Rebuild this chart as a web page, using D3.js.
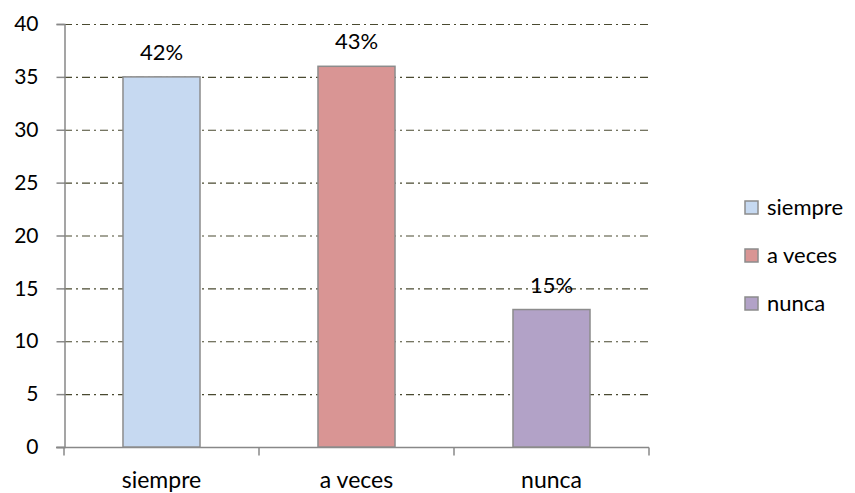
<!DOCTYPE html>
<html lang="es">
<head>
  <meta charset="UTF-8" />
  <script src="https://d3js.org/d3.v7.min.js"></script>
  <style>
    body { margin: 0; background: #fff; }
    text { font-family: Lato, "Open Sans", sans-serif; fill: #000; }
  </style>
</head>
<body>
  <svg width="855" height="493"></svg>

  <script>
    const categories = ["siempre", "a veces", "nunca"];
    const values = [35, 36, 13];
    const percentLabels = ["42%", "43%", "15%"];
    const colors = ["#c6d9f1", "#d99594", "#b2a2c7"];
    const yTicks = [0, 5, 10, 15, 20, 25, 30, 35, 40];

    const svg = d3.select("svg");
    const plotLeft = 64, plotRight = 649, plotTop = 24, plotBottom = 447;

    const x = d3.scaleBand()
      .domain(categories)
      .range([plotLeft, plotRight])
      .paddingInner(0.605)
      .paddingOuter(0.3025);

    const xCat = d3.scaleBand().domain(categories).range([plotLeft, plotRight]);

    const y = d3.scaleLinear().domain([0, 40]).range([plotBottom, plotTop]);

    // grid lines
    svg.append("g")
      .selectAll("line")
      .data(yTicks.filter(d => d > 0))
      .enter()
      .append("line")
      .attr("x1", plotLeft)
      .attr("x2", plotRight)
      .attr("y1", d => y(d) + 0.5)
      .attr("y2", d => y(d) + 0.5)
      .attr("stroke", "#4a4a30")
      .attr("stroke-width", 1.2)
      .attr("stroke-dasharray", "8,4,2,4");

    // y axis
    const yAxis = svg.append("g")
      .attr("transform", `translate(${plotLeft + 0.5},0)`)
      .call(d3.axisLeft(y).tickValues(yTicks).tickSize(8).tickPadding(18));
    yAxis.select(".domain").attr("stroke", "#888").attr("stroke-width", 1.5);
    yAxis.selectAll(".tick line").attr("stroke", "#888").attr("stroke-width", 1.5);
    yAxis.selectAll(".tick text")
      .style("font-size", "21px")
      .style("font-family", "Lato, 'Open Sans', sans-serif")
      .attr("fill", "#000");

    // x axis
    const xAxis = svg.append("g")
      .attr("transform", `translate(0,${plotBottom + 0.5})`);
    xAxis.append("line")
      .attr("x1", plotLeft - 8).attr("x2", plotRight)
      .attr("stroke", "#888").attr("stroke-width", 1.5);
    xAxis.selectAll(".xt")
      .data(categories.concat(["end"]))
      .enter()
      .append("line")
      .attr("x1", (d, i) => i < categories.length ? xCat(d) : plotRight)
      .attr("x2", (d, i) => i < categories.length ? xCat(d) : plotRight)
      .attr("y1", 0).attr("y2", 8)
      .attr("stroke", "#888").attr("stroke-width", 1.5);
    xAxis.selectAll("text")
      .data(categories)
      .enter()
      .append("text")
      .attr("x", d => xCat(d) + xCat.bandwidth() / 2)
      .attr("y", 40)
      .attr("text-anchor", "middle")
      .style("font-size", "23px")
      .text(d => d);

    // bars
    svg.append("g")
      .selectAll("rect")
      .data(categories)
      .enter()
      .append("rect")
      .attr("x", d => x(d))
      .attr("y", (d, i) => y(values[i]))
      .attr("width", x.bandwidth())
      .attr("height", (d, i) => plotBottom - y(values[i]))
      .attr("fill", (d, i) => colors[i])
      .attr("stroke", "#8c8c8c")
      .attr("stroke-width", 1.5);

    // value labels
    svg.append("g")
      .selectAll("text")
      .data(categories)
      .enter()
      .append("text")
      .attr("x", d => x(d) + x.bandwidth() / 2)
      .attr("y", (d, i) => y(values[i]) - 17)
      .attr("text-anchor", "middle")
      .style("font-size", "22px")
      .text((d, i) => percentLabels[i]);

    // legend
    const legend = svg.append("g")
      .selectAll("g")
      .data(categories)
      .enter()
      .append("g")
      .attr("transform", (d, i) => `translate(745,${201 + i * 48})`);
    legend.append("rect")
      .attr("width", 13).attr("height", 13)
      .attr("fill", (d, i) => colors[i])
      .attr("stroke", "#8c8c8c")
      .attr("stroke-width", 1.5);
    legend.append("text")
      .attr("x", 22)
      .attr("y", 14)
      .style("font-size", "22px")
      .text(d => d);
  </script>
</body>
</html>
